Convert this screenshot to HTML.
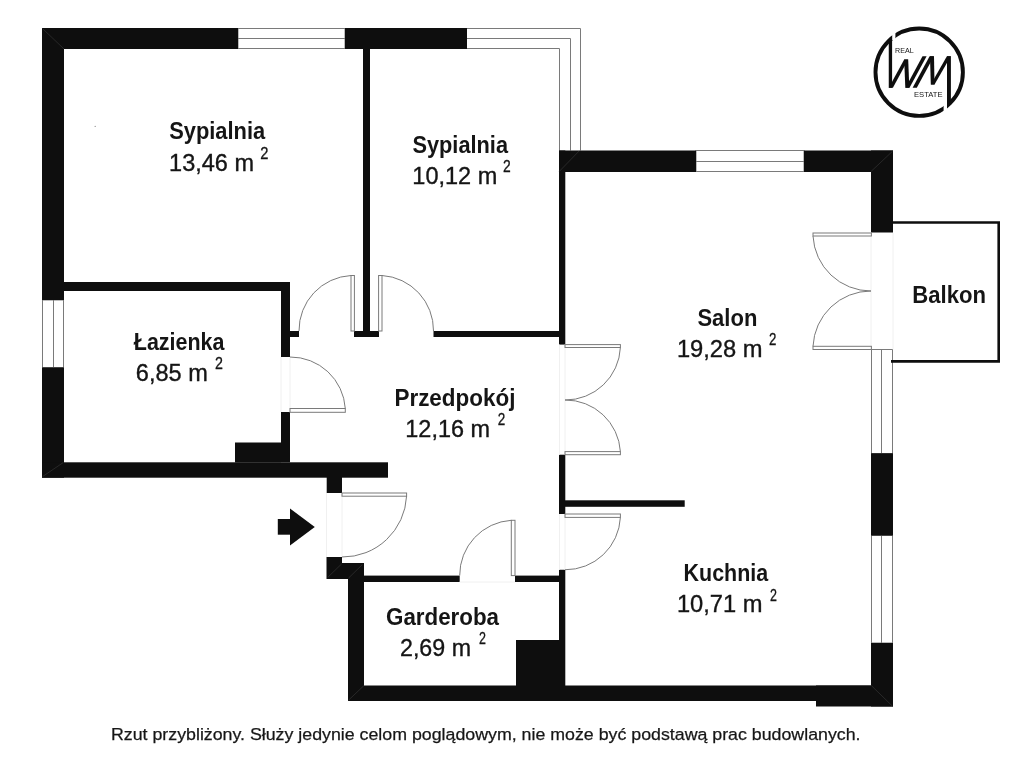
<!DOCTYPE html>
<html><head><meta charset="utf-8">
<style>
html,body{margin:0;padding:0;background:#fff;width:1024px;height:768px;overflow:hidden}
svg{display:block;filter:grayscale(1)}
.w{fill:#0e0e0e}
.g{fill:none;stroke:#7a7a7a;stroke-width:1}
.win{fill:#fff;stroke:#7a7a7a;stroke-width:1}
.j{fill:none;stroke:#f0f0f0;stroke-width:1}
text{font-family:"Liberation Sans",sans-serif;fill:#151515}
.b{font-weight:bold}
</style></head>
<body>
<svg width="1024" height="768" viewBox="0 0 1024 768">
<!-- windows -->
<g class="g">
  <rect class="win" x="238" y="28.5" width="107" height="20"/>
  <line x1="238" y1="38.5" x2="345" y2="38.5"/>
  <polyline points="467,28.5 580.5,28.5 580.5,150.5"/>
  <polyline points="467,38.5 570.5,38.5 570.5,150.5"/>
  <polyline points="467,48.5 559.5,48.5 559.5,150.5"/>
  <rect class="win" x="696" y="150.5" width="108" height="21"/>
  <line x1="696" y1="161.5" x2="804" y2="161.5"/>
  <rect class="win" x="42.5" y="300" width="21" height="67.5"/>
  <line x1="53.5" y1="300" x2="53.5" y2="367.5"/>
  <rect class="win" x="871.5" y="349.5" width="21" height="104"/>
  <line x1="881.5" y1="349.5" x2="881.5" y2="453.5"/>
  <rect class="win" x="871.5" y="535.5" width="21" height="107.5"/>
  <line x1="881.5" y1="535.5" x2="881.5" y2="643"/>
</g>
<!-- walls -->
<g class="w">
  <rect x="42" y="28" width="196" height="21"/>
  <rect x="345" y="28" width="122" height="21"/>
  <rect x="42" y="28" width="22" height="272"/>
  <rect x="42" y="367.5" width="22" height="110.2"/>
  <rect x="363" y="49" width="7" height="288"/>
  <rect x="64" y="282" width="226" height="9"/>
  <rect x="281" y="282" width="9" height="75"/>
  <rect x="290" y="331" width="9" height="6"/>
  <rect x="354" y="331" width="25" height="6"/>
  <rect x="433.5" y="331" width="131.5" height="6"/>
  <rect x="281" y="412" width="9" height="50.3"/>
  <rect x="235" y="442.5" width="46" height="20"/>
  <rect x="42" y="462.3" width="346" height="15.4"/>
  <rect x="326.7" y="477" width="15.3" height="16"/>
  <rect x="326.5" y="557" width="15.5" height="22"/>
  <rect x="342" y="563" width="22" height="16"/>
  <rect x="348" y="563" width="16" height="138"/>
  <rect x="364" y="575.6" width="95.7" height="6.4"/>
  <rect x="515" y="575.6" width="50" height="6.4"/>
  <rect x="559" y="150.5" width="6.3" height="194.1"/>
  <rect x="559" y="454.7" width="6.3" height="59.3"/>
  <rect x="565" y="500.3" width="119.7" height="6.5"/>
  <rect x="559" y="569.75" width="6.3" height="131.25"/>
  <rect x="516" y="640" width="43.5" height="46"/>
  <rect x="348" y="685.5" width="545" height="15.5"/>
  <rect x="816" y="685.5" width="77" height="21"/>
  <rect x="559" y="150.5" width="137" height="21.5"/>
  <rect x="804" y="150.5" width="89" height="21.5"/>
  <rect x="871" y="150.5" width="22" height="82"/>
  <rect x="871" y="453.3" width="22" height="82.2"/>
  <rect x="871" y="643" width="22" height="63.5"/>
</g>
<g stroke="#2e2e2e" stroke-width="0.8" fill="none">
  <line x1="42.5" y1="28.5" x2="64" y2="49"/>
  <line x1="559.4" y1="171.3" x2="579.2" y2="150.9"/>
  <line x1="42.5" y1="476.6" x2="63.3" y2="462.5"/>
  <line x1="327.8" y1="577.3" x2="341.5" y2="564"/>
  <line x1="348.6" y1="578" x2="362.3" y2="564.6"/>
  <line x1="871.25" y1="171.25" x2="892.5" y2="151.25"/>
  <line x1="871.25" y1="685.5" x2="892.5" y2="706.2"/>
  <line x1="348.3" y1="700.4" x2="363.75" y2="685.75"/>
</g>
<circle cx="95.2" cy="126.4" r="0.7" fill="#999"/>
<!-- door jambs (faint) -->
<g class="j">
  <line x1="326.5" y1="493" x2="326.5" y2="557"/>
  <line x1="342" y1="493" x2="342" y2="557"/>
  <line x1="281" y1="357" x2="281" y2="412"/>
  <line x1="290" y1="357" x2="290" y2="412"/>
  <line x1="559.5" y1="344.6" x2="559.5" y2="454.7"/>
  <line x1="565" y1="344.6" x2="565" y2="454.7"/>
  <line x1="559.5" y1="514" x2="559.5" y2="569.75"/>
  <line x1="565" y1="514" x2="565" y2="569.75"/>
  <line x1="459.7" y1="582" x2="515" y2="582"/>
  <line x1="871" y1="233" x2="871" y2="349.5"/>
  <line x1="893" y1="233" x2="893" y2="349.5"/>
</g>
<!-- doors -->
<g class="g">
  <rect x="351" y="275.5" width="3.4" height="55.5"/>
  <path d="M351,275.5 A55,55 0 0 0 299,331"/>
  <rect x="378.6" y="275.5" width="3.4" height="55.5"/>
  <path d="M382,275.5 A55,55 0 0 1 433.5,331"/>
  <rect x="290" y="408.5" width="55.3" height="3.8"/>
  <path d="M290,357 A55,55 0 0 1 345.3,408.5"/>
  <rect x="342" y="493" width="64.6" height="3.2"/>
  <path d="M406.6,496 A64,64 0 0 1 342,557"/>
  <rect x="565" y="344.6" width="55.4" height="2.9"/>
  <path d="M620.4,347.5 A55,55 0 0 1 565,400"/>
  <rect x="565" y="451.6" width="55.4" height="3.1"/>
  <path d="M620.4,451.6 A55,55 0 0 0 565,400"/>
  <rect x="565" y="514" width="55.4" height="3.4"/>
  <path d="M620.4,517.4 A55,55 0 0 1 565,569.75"/>
  <rect x="511.3" y="520.3" width="3.7" height="55.3"/>
  <path d="M511.3,520.3 A55,55 0 0 0 459.7,575.6"/>
  <rect x="813" y="233" width="58.4" height="3"/>
  <path d="M813,236 A58,58 0 0 0 871,291"/>
  <rect x="813" y="346.3" width="58.4" height="3.2"/>
  <path d="M813,346.3 A58,58 0 0 1 871,291"/>
</g>
<!-- balkon -->
<polyline points="893,222.5 998.7,222.5 998.7,361.4 891,361.4" fill="none" stroke="#0e0e0e" stroke-width="2.6"/>
<!-- entry arrow -->
<rect x="277.8" y="519" width="12.5" height="15.7" fill="#0e0e0e"/>
<polygon points="290,508.4 314.8,527 290,545.5" fill="#0e0e0e"/>
<!-- logo -->
<circle cx="919.2" cy="72.2" r="43.7" fill="none" stroke="#0e0e0e" stroke-width="3.9"/>
<rect x="892.2" y="26" width="3.2" height="14" fill="#fff"/>
<rect x="943.6" y="102" width="3.4" height="18" fill="#fff"/>
<g fill="#0e0e0e">
  <polygon points="888.75,40 892.1,40 892.1,87.8 888.75,87.8"/>
  <polygon points="888.8,87.8 892.9,87.8 908.2,59.4 904.2,59.4"/>
  <polygon points="905.3,87.8 909.3,87.8 908.2,59.4 904.2,59.4"/>
  <polygon points="905.5,87.8 909.5,87.8 926.6,56.25 922.5,56.25"/>
  <polygon points="912.6,87.8 916.8,87.8 933.9,56.25 929.6,56.25"/>
  <polygon points="930.8,84.6 934.5,84.6 934,56.25 930,56.25"/>
  <polygon points="930.8,84.6 934.5,84.6 950.8,56.25 946.9,56.25"/>
  <polygon points="947,56.25 950.9,56.25 950.9,104 947,106"/>
</g>
<text x="895" y="52.6" font-size="7.8" fill="#6a6a6a" textLength="18.6" lengthAdjust="spacingAndGlyphs">REAL</text>
<text x="914" y="97.2" font-size="7.8" fill="#6a6a6a" textLength="28.5" lengthAdjust="spacingAndGlyphs">ESTATE</text>
<!-- labels -->
<text class="b" x="169.17" y="139.4" font-size="23.0" textLength="96.05" lengthAdjust="spacingAndGlyphs">Sypialnia</text>
<text stroke="#151515" stroke-width="0.35" x="169.14" y="170.6" font-size="23.3" textLength="84.91" lengthAdjust="spacingAndGlyphs">13,46 m</text>
<text stroke="#151515" stroke-width="0.3" x="260.28" y="158.5" font-size="15.8" textLength="8.17" lengthAdjust="spacingAndGlyphs">2</text>
<text class="b" x="412.46" y="153.1" font-size="23.0" textLength="95.54" lengthAdjust="spacingAndGlyphs">Sypialnia</text>
<text stroke="#151515" stroke-width="0.35" x="412.37" y="184.0" font-size="23.3" textLength="84.92" lengthAdjust="spacingAndGlyphs">10,12 m</text>
<text stroke="#151515" stroke-width="0.3" x="503.10" y="171.9" font-size="15.8" textLength="7.72" lengthAdjust="spacingAndGlyphs">2</text>
<text class="b" x="133.78" y="349.6" font-size="23.0" textLength="90.73" lengthAdjust="spacingAndGlyphs">Łazienka</text>
<text stroke="#151515" stroke-width="0.35" x="135.89" y="380.6" font-size="23.3" textLength="72.01" lengthAdjust="spacingAndGlyphs">6,85 m</text>
<text stroke="#151515" stroke-width="0.3" x="214.98" y="368.75" font-size="15.8" textLength="7.92" lengthAdjust="spacingAndGlyphs">2</text>
<text class="b" x="394.43" y="406.2" font-size="23.0" textLength="121.04" lengthAdjust="spacingAndGlyphs">Przedpokój</text>
<text stroke="#151515" stroke-width="0.35" x="405.33" y="436.9" font-size="23.3" textLength="84.76" lengthAdjust="spacingAndGlyphs">12,16 m</text>
<text stroke="#151515" stroke-width="0.3" x="497.65" y="425.0" font-size="15.8" textLength="7.50" lengthAdjust="spacingAndGlyphs">2</text>
<text class="b" x="697.43" y="325.7" font-size="23.0" textLength="59.90" lengthAdjust="spacingAndGlyphs">Salon</text>
<text stroke="#151515" stroke-width="0.35" x="676.92" y="357.3" font-size="23.3" textLength="85.66" lengthAdjust="spacingAndGlyphs">19,28 m</text>
<text stroke="#151515" stroke-width="0.3" x="768.92" y="344.9" font-size="15.8" textLength="7.36" lengthAdjust="spacingAndGlyphs">2</text>
<text class="b" x="683.56" y="581.0" font-size="23.0" textLength="84.66" lengthAdjust="spacingAndGlyphs">Kuchnia</text>
<text stroke="#151515" stroke-width="0.35" x="676.92" y="612.3" font-size="23.3" textLength="85.66" lengthAdjust="spacingAndGlyphs">10,71 m</text>
<text stroke="#151515" stroke-width="0.3" x="769.88" y="600.6" font-size="15.8" textLength="6.93" lengthAdjust="spacingAndGlyphs">2</text>
<text class="b" x="386.00" y="625.0" font-size="23.0" textLength="113.02" lengthAdjust="spacingAndGlyphs">Garderoba</text>
<text stroke="#151515" stroke-width="0.35" x="399.97" y="656.2" font-size="23.3" textLength="71.06" lengthAdjust="spacingAndGlyphs">2,69 m</text>
<text stroke="#151515" stroke-width="0.3" x="478.88" y="643.5" font-size="15.8" textLength="6.93" lengthAdjust="spacingAndGlyphs">2</text>
<text class="b" x="912.32" y="302.7" font-size="23.0" textLength="73.77" lengthAdjust="spacingAndGlyphs">Balkon</text>
<text fill="#222" stroke="#222" stroke-width="0.25" x="110.99" y="740.0" font-size="16.35" textLength="749.52" lengthAdjust="spacingAndGlyphs">Rzut przybliżony. Służy jedynie celom poglądowym, nie może być podstawą prac budowlanych.</text>
</svg>
</body></html>
